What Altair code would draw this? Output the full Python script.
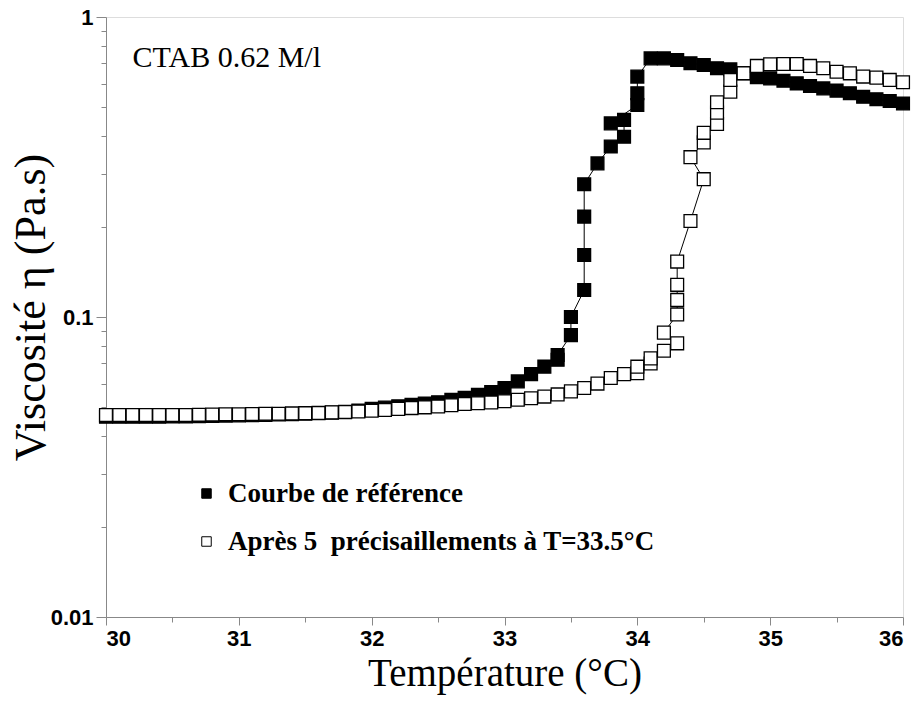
import altair as alt
import pandas as pd

# ---------------- data ----------------
series_names = ["Courbe de référence", "Après 5\u00a0 précisaillements à T=33.5°C"]

ref_T = [30.0, 30.1, 30.2, 30.3, 30.4, 30.5, 30.6, 30.7, 30.8, 30.9,
         31.0, 31.1, 31.2, 31.3, 31.4, 31.5, 31.6, 31.7, 31.8, 31.9,
         32.0, 32.1, 32.2, 32.3, 32.4, 32.5, 32.6, 32.7, 32.8, 32.9,
         33.0, 33.1, 33.2, 33.3, 33.4, 33.4, 33.5, 33.5, 33.6, 33.6,
         33.6, 33.6, 33.7, 33.8, 33.9, 33.9, 33.8, 34.0, 34.0, 34.0,
         34.1, 34.2, 34.3, 34.4, 34.5, 34.6, 34.7, 34.8, 34.9, 35.0,
         35.1, 35.2, 35.3, 35.4, 35.5, 35.6, 35.7, 35.8, 35.9, 36.0]
ref_visc = [0.0465, 0.0465, 0.0465, 0.0465, 0.0465, 0.0466, 0.0466, 0.0467, 0.0468, 0.0469,
            0.0470, 0.0471, 0.0472, 0.0473, 0.0474, 0.0476, 0.0478, 0.0480, 0.0483, 0.0488,
            0.0494, 0.0499, 0.0504, 0.0510, 0.0515, 0.0520, 0.0530, 0.0538, 0.0550, 0.0562,
            0.0580, 0.0610, 0.0645, 0.0683, 0.0720, 0.0747, 0.087, 0.100, 0.123, 0.161,
            0.216, 0.277, 0.325, 0.370, 0.399, 0.454, 0.442, 0.509, 0.557, 0.633,
            0.728, 0.728, 0.719, 0.701, 0.692, 0.675, 0.669, 0.650, 0.630, 0.624,
            0.613, 0.601, 0.589, 0.578, 0.568, 0.557, 0.542, 0.532, 0.525, 0.515]

apres_T = [30.0, 30.1, 30.2, 30.3, 30.4, 30.5, 30.6, 30.7, 30.8, 30.9,
           31.0, 31.1, 31.2, 31.3, 31.4, 31.5, 31.6, 31.7, 31.8, 31.9,
           32.0, 32.1, 32.2, 32.3, 32.4, 32.5, 32.6, 32.7, 32.8, 32.9,
           33.0, 33.1, 33.2, 33.3, 33.4, 33.5, 33.6, 33.7, 33.8, 33.9,
           34.0, 34.0, 34.1, 34.1, 34.2, 34.3, 34.2, 34.3, 34.3, 34.3,
           34.3, 34.4, 34.5, 34.4, 34.5, 34.5, 34.6, 34.6, 34.6, 34.7,
           34.7, 34.8, 34.9, 35.0, 35.1, 35.2, 35.3, 35.4, 35.5, 35.6,
           35.7, 35.8, 35.9, 36.0]
apres_visc = [0.0471, 0.0471, 0.0471, 0.0471, 0.0471, 0.0471, 0.0471, 0.0472, 0.0473, 0.0474,
              0.0474, 0.0475, 0.0476, 0.0476, 0.0477, 0.0478, 0.0479, 0.0481, 0.0482, 0.0484,
              0.0487, 0.0490, 0.0494, 0.0497, 0.0500, 0.0503, 0.0508, 0.0513, 0.0516, 0.0519,
              0.0524, 0.0530, 0.0536, 0.0543, 0.0552, 0.0565, 0.0580, 0.0600, 0.0626, 0.0645,
              0.0650, 0.0683, 0.0700, 0.0728, 0.0772, 0.0817, 0.0887, 0.102, 0.114, 0.128,
              0.153, 0.209, 0.288, 0.341, 0.382, 0.411, 0.440, 0.480, 0.520, 0.564,
              0.617, 0.649, 0.687, 0.696, 0.697, 0.697, 0.687, 0.675, 0.657, 0.649,
              0.633, 0.628, 0.617, 0.606]

x_ticks = [30, 30.5, 31, 31.5, 32, 32.5, 33, 33.5, 34, 34.5, 35, 35.5, 36]
y_ticks = [0.01, 0.02, 0.03, 0.04, 0.05, 0.06, 0.07, 0.08, 0.09,
           0.1, 0.2, 0.3, 0.4, 0.5, 0.6, 0.7, 0.8, 0.9, 1]

annot_text = ["CTAB 0.62 M/l"]
annot_T = [30.2]
annot_visc = [0.68]

# ---------------- build tables ----------------
rows = []
for i, (t, v) in enumerate(zip(ref_T, ref_visc)):
    rows.append({"T": t, "visc": v, "series": series_names[0], "order": i})
for i, (t, v) in enumerate(zip(apres_T, apres_visc)):
    rows.append({"T": t, "visc": v, "series": series_names[1], "order": i})
df = pd.DataFrame(rows)
annot = pd.DataFrame({"T": annot_T, "visc": annot_visc, "label": annot_text})

tick_font = "Liberation Sans"
title_font = "Liberation Serif"

x_enc = alt.X(
    "T:Q",
    scale=alt.Scale(domain=[30, 36], nice=False, zero=False),
    axis=alt.Axis(
        values=x_ticks,
        labelExpr="datum.value % 1 == 0 ? format(datum.value, 'd') : ''",
        tickSize={"condition": {"test": "datum.value % 1 == 0", "value": 8}, "value": 5},
        title="Température (°C)",
        titleFont=title_font, titleFontSize=39, titleFontWeight="normal",
        titlePadding=5,
        labelFont=tick_font, labelFontSize=22, labelFontWeight="bold",
        labelPadding=3, grid=False,
    ),
)
y_enc = alt.Y(
    "visc:Q",
    scale=alt.Scale(type="log", domain=[0.01, 1], nice=False),
    axis=alt.Axis(
        values=y_ticks,
        labelExpr="datum.value == 0.01 ? '0.01' : datum.value == 0.1 ? '0.1' : datum.value == 1 ? '1' : ''",
        tickSize={"condition": {"test": "datum.value == 0.01 || datum.value == 0.1 || datum.value == 1", "value": 10}, "value": 5},
        title="Viscosité η (Pa.s)",
        titleFont=title_font, titleFontSize=44, titleFontWeight="normal",
        titlePadding=-3, titleY=290,
        labelFont=tick_font, labelFontSize=22, labelFontWeight="bold",
        labelPadding=3, grid=False,
    ),
)

lines = alt.Chart(df).mark_line(color="black", strokeWidth=1).encode(
    x=x_enc, y=y_enc, detail="series:N", order="order:Q"
)

points = alt.Chart(df).mark_square(size=165, stroke="black", strokeWidth=1.3, opacity=1).encode(
    x="T:Q",
    y="visc:Q",
    fill=alt.Fill(
        "series:N",
        scale=alt.Scale(domain=series_names, range=["black", "white"]),
        sort=series_names,
        legend=alt.Legend(
            orient="none", legendX=87, legendY=463, title=None,
            symbolType="square", symbolSize=90,
            symbolStrokeColor="black", symbolStrokeWidth=1,
            labelFont=title_font, labelFontWeight="bold", labelFontSize=27,
            labelOffset=8, rowPadding=20, labelLimit=0, labelColor="black",
        ),
    ),
)

text = alt.Chart(annot).mark_text(
    font=title_font, fontSize=30, align="left", baseline="alphabetic", color="black"
).encode(x="T:Q", y="visc:Q", text="label:N")

chart = alt.layer(lines, points, text).properties(
    width=797, height=600,
    autosize=alt.AutoSizeParams(type="none"),
    padding={"left": 98, "top": 9, "right": 9, "bottom": 84},
).configure_view(stroke="black", strokeWidth=1.5).configure_axis(
    domainColor="black", tickColor="black", domainWidth=1.5, tickWidth=1.2,
    labelColor="black", titleColor="black",
).configure(background="white")

chart.save("out.html", embed_options={"renderer": "svg", "actions": False})
